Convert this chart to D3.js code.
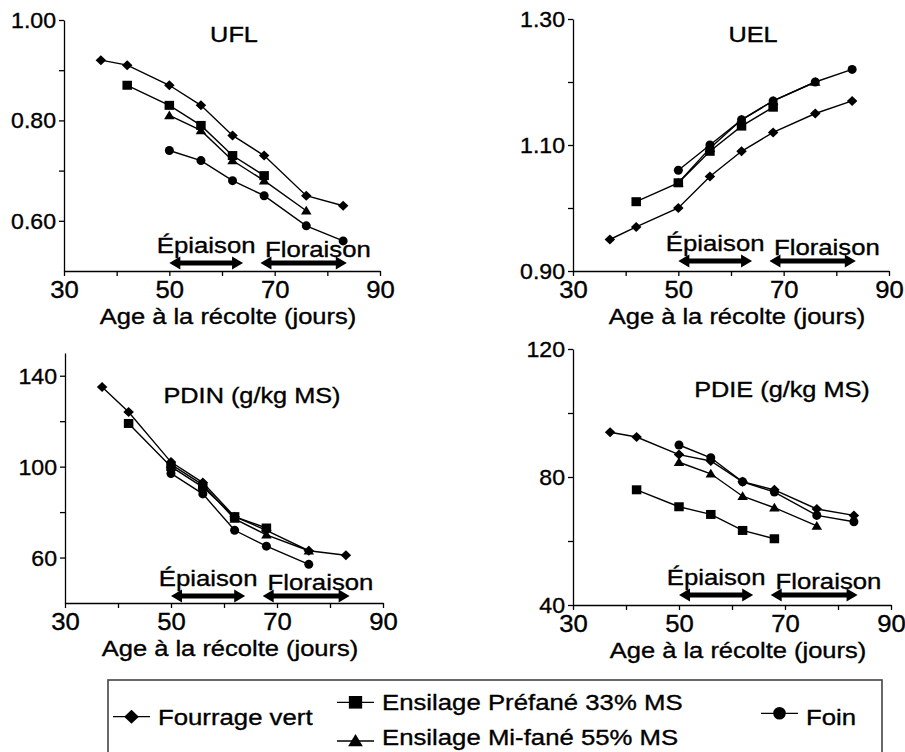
<!DOCTYPE html>
<html>
<head>
<meta charset="utf-8">
<script src="https://cdn.jsdelivr.net/npm/d3@7"></script>
<style>
  html, body { margin: 0; padding: 0; background: #fff; }
  svg { display: block; font-family: "Liberation Sans", Arial, sans-serif; }
  svg text { stroke: #000; stroke-width: 0.35px; }
</style>
</head>
<body>
<div id="chart"></div>
<script>
// Valeur nutritive selon l'âge à la récolte

// ---- données ----
const AGES = [37, 42, 50, 56, 62, 68, 76, 83];
const SERIES = ["Fourrage vert", "Ensilage Préfané 33% MS", "Ensilage Mi-fané 55% MS", "Foin"];
const SYMBOLS = ["diamond", "square", "triangle", "circle"];

const UFL_VERT    = [0.92, 0.91, 0.87, 0.83, 0.77, 0.73, 0.65, 0.63];
const UFL_PREFANE = [null, 0.87, 0.83, 0.79, 0.73, 0.69, null, null];
const UFL_MIFANE  = [null, null, 0.81, 0.78, 0.72, 0.68, 0.62, null];
const UFL_FOIN    = [null, null, 0.74, 0.72, 0.68, 0.65, 0.59, 0.56];

const UEL_VERT    = [0.95, 0.97, 1.00, 1.05, 1.09, 1.12, 1.15, 1.17];
const UEL_PREFANE = [null, 1.01, 1.04, 1.09, 1.13, 1.16, null, null];
const UEL_MIFANE  = [null, null, 1.04, 1.095, 1.14, 1.17, 1.20, null];
const UEL_FOIN    = [null, null, 1.06, 1.10, 1.14, 1.17, 1.20, 1.22];

const PDIN_VERT    = [135, 124, 102, 93, 78, 72, 63, 61];
const PDIN_PREFANE = [null, 119, 100, 91, 78, 73, null, null];
const PDIN_MIFANE  = [null, null, 101, 92, 77, 70, 63, null];
const PDIN_FOIN    = [null, null, 97, 88, 72, 65, 57, null];

const PDIE_VERT    = [94, 92.5, 87, 85, 78.5, 76, 70, 68];
const PDIE_PREFANE = [null, 76, 70.7, 68.3, 63.3, 60.7, null, null];
const PDIE_MIFANE  = [null, null, 84.6, 81, 74, 70.4, 64.7, null];
const PDIE_FOIN    = [null, null, 90, 86, 78.5, 75.3, 68, 66];

const X_TICKS = [30, 40, 50, 60, 70, 80, 90];
const X_LABELS = [30, 50, 70, 90];

const PHASES = ["Épiaison", "Floraison"];
const PHASE_START = [50, 67.3];
const PHASE_END = [64, 83.7];
const PHASE_LABEL_X = [57, 78.2];

// ---- mise en page ----
const W = 905, H = 752;
const SX = 1.16; // texte étiré horizontalement comme sur l'original

const panels = [
  { title: "UFL", values: [UFL_VERT, UFL_PREFANE, UFL_MIFANE, UFL_FOIN],
    yDomain: [0.5, 1.0], yTicks: [0.6, 0.7, 0.8, 0.9, 1.0], yLabels: [0.6, 0.8, 1.0], fmt: d3.format(".2f"),
    x0: 64, x1: 380, y0: 20, y1: 271, titleX: 234, titleY: 42, arrowDy: 8 },
  { title: "UEL", values: [UEL_VERT, UEL_PREFANE, UEL_MIFANE, UEL_FOIN],
    yDomain: [0.9, 1.3], yTicks: [0.9, 1.0, 1.1, 1.2, 1.3], yLabels: [0.9, 1.1, 1.3], fmt: d3.format(".2f"),
    x0: 573, x1: 889, y0: 19, y1: 271, titleX: 753, titleY: 42, arrowDy: 10 },
  { title: "PDIN (g/kg MS)", values: [PDIN_VERT, PDIN_PREFANE, PDIN_MIFANE, PDIN_FOIN],
    yDomain: [40, 150], yTicks: [60, 80, 100, 120, 140], yLabels: [60, 100, 140], fmt: d3.format("d"),
    x0: 65, x1: 383, y0: 353, y1: 603, titleX: 252, titleY: 403, arrowDy: 7 },
  { title: "PDIE (g/kg MS)", values: [PDIE_VERT, PDIE_PREFANE, PDIE_MIFANE, PDIE_FOIN],
    yDomain: [40, 120], yTicks: [40, 60, 80, 100, 120], yLabels: [40, 80, 120], fmt: d3.format("d"),
    x0: 573, x1: 891, y0: 349, y1: 605, titleX: 782, titleY: 397, arrowDy: 10 },
];

const svg = d3.select("#chart").append("svg")
  .attr("width", W)
  .attr("height", H);

function stext(g, x, y, str, size, anchor, sx = SX) {
  return g.append("text")
    .attr("transform", `translate(${x},${y}) scale(${sx},1)`)
    .attr("text-anchor", anchor || "middle")
    .attr("font-size", size)
    .attr("fill", "#000")
    .text(str);
}

function symbolPath(type, s) {
  if (type === "diamond") return `M0,${-s}L${s * 1.05},0L0,${s}L${-s * 1.05},0Z`;
  if (type === "square") return `M${-s * 0.95},${-s * 0.9}H${s * 0.95}V${s * 0.9}H${-s * 0.95}Z`;
  if (type === "triangle") return `M0,${-s}L${s * 1.05},${s * 0.75}L${-s * 1.05},${s * 0.75}Z`;
  return null;
}

function drawMarker(g, type, x, y, s) {
  if (type === "circle") {
    g.append("circle").attr("cx", x).attr("cy", y).attr("r", s * 0.9).attr("fill", "#000");
  } else {
    g.append("path").attr("d", symbolPath(type, s))
      .attr("transform", `translate(${x},${y})`).attr("fill", "#000");
  }
}

function arrow(g, xa, xb, y) {
  const hl = 11, hh = 6.5, sw = 2.4;
  const d = `M${xa},${y}L${xa + hl},${y - hh}L${xa + hl},${y - sw}L${xb - hl},${y - sw}L${xb - hl},${y - hh}`
    + `L${xb},${y}L${xb - hl},${y + hh}L${xb - hl},${y + sw}L${xa + hl},${y + sw}L${xa + hl},${y + hh}Z`;
  g.append("path").attr("d", d).attr("fill", "#000");
}

panels.forEach((p) => {
  const g = svg.append("g");
  const x = d3.scaleLinear().domain([30, 90]).range([p.x0, p.x1]);
  const y = d3.scaleLinear().domain(p.yDomain).range([p.y1, p.y0]);

  // axes
  const ax = g.append("g").attr("transform", `translate(0,${p.y1})`)
    .call(d3.axisBottom(x).tickValues(X_TICKS).tickSize(5).tickSizeOuter(0).tickPadding(4)
      .tickFormat((d) => X_LABELS.includes(d) ? d : ""));
  const ay = g.append("g").attr("transform", `translate(${p.x0},0)`)
    .call(d3.axisLeft(y).tickValues(p.yTicks).tickSize(5).tickSizeOuter(0).tickPadding(3)
      .tickFormat((d) => p.yLabels.some((v) => Math.abs(v - d) < 1e-9) ? p.fmt(d) : ""));

  [ax, ay].forEach((a) => {
    a.selectAll("path, line").attr("stroke", "#000").attr("stroke-width", 1.3);
    a.selectAll("text").attr("font-size", 22).attr("fill", "#000")
      .attr("font-family", "Liberation Sans, Arial, sans-serif");
  });
  ax.selectAll("text").attr("font-size", 24).attr("transform", "scale(1.07,1)")
    .attr("y", 27).attr("dy", 0);
  ay.selectAll("text").each(function () {
    const t = d3.select(this);
    t.attr("x", +t.attr("x") / 1.05).attr("transform", "scale(1.05,1)").attr("dy", "0.34em");
  });

  // titres
  stext(g, p.titleX, p.titleY, p.title, 22, "middle", 1.15);
  stext(g, (p.x0 + p.x1) / 2 + 6, p.y1 + 53, "Age à la récolte (jours)", 22, "middle", 1.16);

  // stades
  const ya = p.y1 - p.arrowDy;
  PHASES.forEach((ph, i) => {
    arrow(g, x(PHASE_START[i]), x(PHASE_END[i]), ya);
    stext(g, x(PHASE_LABEL_X[i]), ya - (i === 0 ? 10.5 : 6.5), ph, 22, "middle", 1.17);
  });

  // séries
  const line = d3.line()
    .defined((d) => d.v != null)
    .x((d) => x(d.a))
    .y((d) => y(d.v));

  p.values.forEach((vals, si) => {
    const pts = AGES.map((a, i) => ({ a, v: vals[i] }));
    g.append("path")
      .datum(pts.filter((d) => d.v != null))
      .attr("d", line)
      .attr("fill", "none")
      .attr("stroke", "#000")
      .attr("stroke-width", 1.4);
    pts.filter((d) => d.v != null).forEach((d) => drawMarker(g, SYMBOLS[si], x(d.a), y(d.v), 5));
  });
});

// ---- légende ----
const lg = svg.append("g");
lg.append("rect")
  .attr("x", 108).attr("y", 680).attr("width", 774).attr("height", 100)
  .attr("fill", "none").attr("stroke", "#444").attr("stroke-width", 1.6);

const legendPos = [
  { lx: 113, ly: 716.7, ty: 725 },
  { lx: 337, ly: 702.3, ty: 710 },
  { lx: 337, ly: 741, ty: 745 },
  { lx: 761, ly: 713.3, ty: 725 },
];

SERIES.forEach((name, i) => {
  const lp = legendPos[i];
  lg.append("line")
    .attr("x1", lp.lx).attr("x2", lp.lx + 37)
    .attr("y1", lp.ly).attr("y2", lp.ly)
    .attr("stroke", "#000").attr("stroke-width", 1.3);
  drawMarker(lg, SYMBOLS[i], lp.lx + 18.5, lp.ly, 7);
  stext(lg, lp.lx + 45, lp.ty, name, 23, "start", 1.12);
});
</script>
</body>
</html>
